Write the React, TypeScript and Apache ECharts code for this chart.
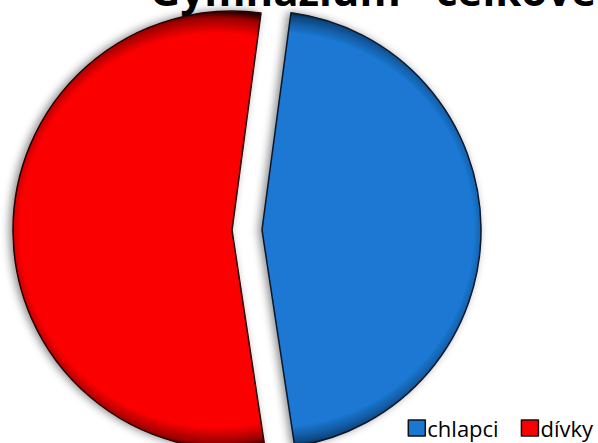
import React, { useEffect, useRef } from "react";
import * as echarts from "echarts";

const titleText = "Gymnázium - celkově";
const categories = ["chlapci", "dívky"];
const values = [45.5, 54.5];
const colors = ["#1a78d2", "#fa0000"];
const rimColors = ["#0e4a86", "#9a0000"];
const borderColors = ["#08182a", "#260000"];

const CX = 247;
const CY = 230;
const R = 219;
const OFFSET = 15;
const START = 82.4;

export default function App() {
  const ref = useRef<HTMLDivElement>(null);
  useEffect(() => {
    const chart = echarts.init(ref.current!, undefined, { renderer: "svg" });
    const total = values.reduce((a, b) => a + b, 0);
    let acc = 0;
    const data = categories.map((name, i) => {
      const span = (values[i] / total) * 360;
      const mid = START - acc - span / 2;
      acc += span;
      const rad = (mid * Math.PI) / 180;
      const cx = CX + OFFSET * Math.cos(rad);
      const cy = CY - OFFSET * Math.sin(rad);
      return {
        name,
        value: values[i],
        selected: true,
        itemStyle: {
          color: {
            type: "radial",
            x: cx,
            y: cy,
            r: R,
            global: true,
            colorStops: [
              { offset: 0, color: colors[i] },
              { offset: 0.9, color: colors[i] },
              { offset: 0.97, color: rimColors[i] },
              { offset: 1, color: borderColors[i] },
            ],
          },
          borderColor: borderColors[i],
          borderWidth: 1.5,
          shadowBlur: 8,
          shadowOffsetX: -3,
          shadowOffsetY: 0,
          shadowColor: "rgba(0,0,0,0.45)",
        },
      };
    });
    chart.setOption({
      animation: false,
      title: {
        text: titleText,
        left: 368,
        textAlign: "center",
        top: -37,
        textStyle: {
          fontFamily: "Open Sans",
          fontWeight: "bold",
          fontSize: 42,
          color: "#000",
        },
      },
      legend: {
        right: 5,
        bottom: 4,
        padding: 0,
        itemWidth: 17,
        itemHeight: 16,
        itemGap: 22,
        icon: "rect",
        textStyle: { fontFamily: "Open Sans", fontSize: 22, color: "#000", padding: [0, 0, 0, -3] },
        data: categories.map((c, i) => ({
          name: c,
          itemStyle: { color: colors[i], borderColor: "#111", borderWidth: 1.5 },
        })),
      },
      series: [
        {
          type: "pie",
          center: [CX, CY],
          radius: R,
          startAngle: START,
          clockwise: true,
          selectedMode: "multiple",
          selectedOffset: OFFSET,
          label: { show: false },
          labelLine: { show: false },
          emphasis: { disabled: true },
          data,
        },
      ],
    });
    return () => chart.dispose();
  }, []);
  return (
    <div
      ref={ref}
      style={{ position: "fixed", left: 0, top: 0, width: 598, height: 443, background: "#fff" }}
    />
  );
}
